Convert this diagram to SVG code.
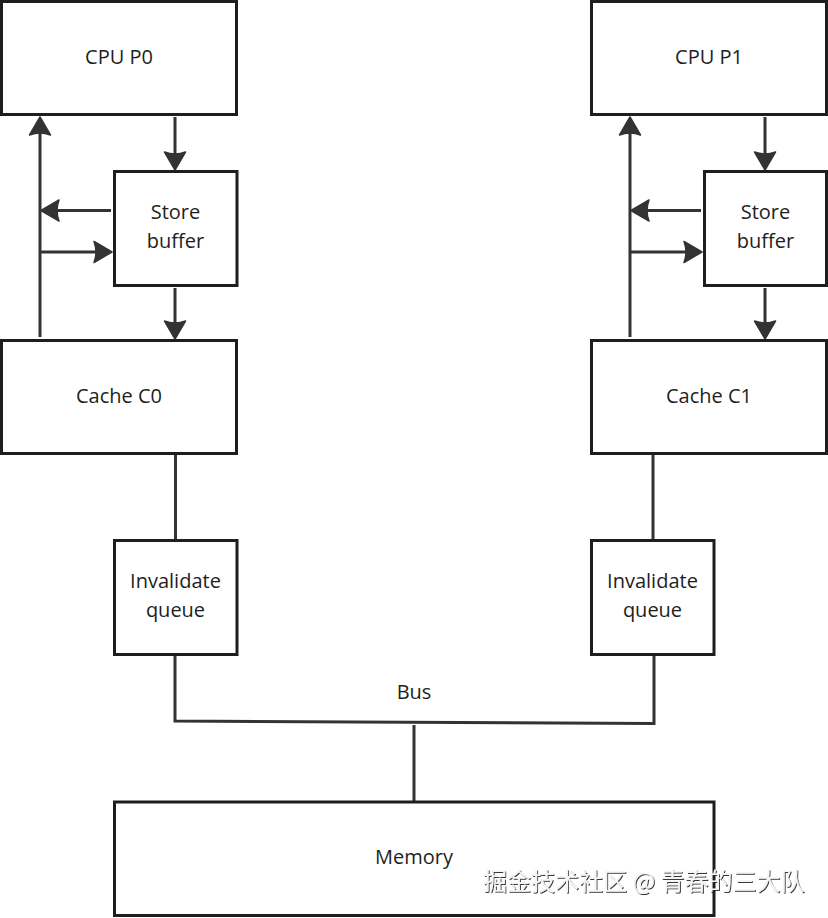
<svg xmlns="http://www.w3.org/2000/svg" width="828" height="918" viewBox="0 0 828 918">
<style>
.box{fill:#fff;stroke:#1e1e1e;stroke-width:3}
.lbl{font-family:"Open Sans","Noto Sans",sans-serif;font-size:20px;fill:#1e1e1e;text-anchor:middle}
.c{fill:none;stroke:#333;stroke-width:3}
.a{marker-end:url(#ah)}
.wm{font-family:"Noto Sans CJK SC","Noto Sans",sans-serif;font-size:24px;fill:#f4f4f4;filter:url(#sh)}
</style>
<defs>
<marker id="ah" viewBox="-20 -12 22 24" refX="-3" refY="0" markerWidth="22" markerHeight="24" markerUnits="userSpaceOnUse" orient="auto">
<path d="M0,0 L-18,-10.5 Q-14,0 -18,10.5 Z" fill="#333" stroke="#333" stroke-width="1.5" stroke-linejoin="round"/>
</marker>
<filter id="sh" x="-5%" y="-20%" width="110%" height="140%">
<feDropShadow dx="1" dy="1" stdDeviation="0.6" flood-color="#222" flood-opacity="0.9"/>
</filter>
</defs>
<g id="connectors">
<line class="c a" x1="175" y1="117" x2="175" y2="167"/>
<line class="c a" x1="40" y1="337" x2="40" y2="120"/>
<line class="c a" x1="111" y1="210.5" x2="44" y2="210.5"/>
<line class="c a" x1="40" y1="252" x2="109" y2="252"/>
<line class="c a" x1="175" y1="288" x2="175" y2="336"/>
<line class="c" x1="175.5" y1="455" x2="175.5" y2="539"/>
<line class="c a" x1="765" y1="117" x2="765" y2="167"/>
<line class="c a" x1="630" y1="337" x2="630" y2="120"/>
<line class="c a" x1="701" y1="210.5" x2="634" y2="210.5"/>
<line class="c a" x1="630" y1="252" x2="699" y2="252"/>
<line class="c a" x1="765" y1="288" x2="765" y2="336"/>
<line class="c" x1="653" y1="455" x2="653" y2="539"/>
<polyline class="c" points="175,656 175,721 654,723.5 654,656"/>
<line class="c" x1="414" y1="725" x2="414" y2="801"/>
</g>
<g id="cpu-p0"><rect class="box" x="1.5" y="1.5" width="235" height="113"/><text class="lbl" x="119" y="64">CPU P0</text></g>
<g id="store-buffer-0"><rect class="box" x="114.5" y="171.5" width="122.5" height="114"/><text class="lbl" x="175.5" y="219">Store</text><text class="lbl" x="175.5" y="248">buffer</text></g>
<g id="cache-c0"><rect class="box" x="1.5" y="340.5" width="235" height="113"/><text class="lbl" x="119" y="403">Cache C0</text></g>
<g id="invalidate-queue-0"><rect class="box" x="114.5" y="540.5" width="122.5" height="114"/><text class="lbl" x="175.5" y="588">Invalidate</text><text class="lbl" x="175.5" y="617">queue</text></g>
<g id="cpu-p1"><rect class="box" x="591.5" y="1.5" width="235" height="113"/><text class="lbl" x="709" y="64">CPU P1</text></g>
<g id="store-buffer-1"><rect class="box" x="704.5" y="171.5" width="122" height="114"/><text class="lbl" x="765.5" y="219">Store</text><text class="lbl" x="765.5" y="248">buffer</text></g>
<g id="cache-c1"><rect class="box" x="591.5" y="340.5" width="235" height="113"/><text class="lbl" x="709" y="403">Cache C1</text></g>
<g id="invalidate-queue-1"><rect class="box" x="591.5" y="540.5" width="122.5" height="114"/><text class="lbl" x="652.5" y="588">Invalidate</text><text class="lbl" x="652.5" y="617">queue</text></g>
<g id="bus"><text class="lbl" x="414" y="699">Bus</text></g>
<g id="memory"><rect class="box" x="114.5" y="802" width="599.5" height="113.5"/><text class="lbl" x="414" y="864">Memory</text></g>
<text class="wm" x="483" y="890">掘金技术社区 @ 青春的三大队</text>
</svg>
